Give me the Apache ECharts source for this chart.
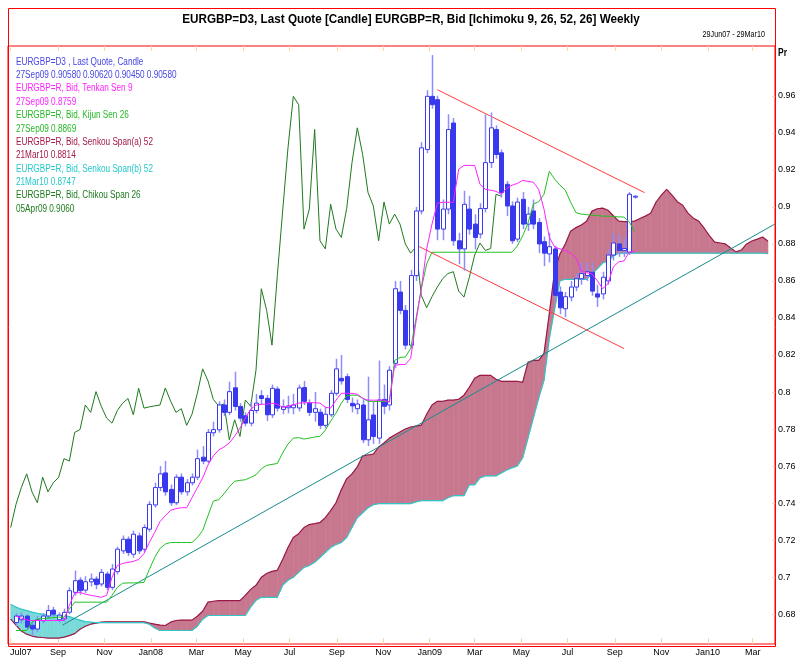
<!DOCTYPE html>
<html><head><meta charset="utf-8">
<script src="https://cdn.jsdelivr.net/npm/echarts@6/dist/echarts.min.js"></script>
<style>html,body{margin:0;padding:0;background:#fff}#c{width:799px;height:657px}</style>
</head><body><div id="c"></div>
<script>
const FONT = '"Liberation Sans",Arial,sans-serif';

// weekly candles start date and OHLC rows [open, close, low, high]
const candleStart = '2007-07-08';
const ohlc = [
[0.6755,0.6790,0.6735,0.6805],[0.6770,0.6790,0.6750,0.6810],[0.6790,0.6730,0.6715,0.6800],[0.6740,0.6720,0.6685,0.6760],
[0.6720,0.6770,0.6705,0.6790],[0.6765,0.6790,0.6750,0.6805],[0.6790,0.6820,0.6775,0.6850],[0.6822,0.6800,0.6785,0.6840],
[0.6770,0.6795,0.6755,0.6810],[0.6775,0.6810,0.6760,0.6830],[0.6811,0.6927,0.6800,0.6945],[0.6918,0.6981,0.6900,0.7036],
[0.6984,0.6927,0.6905,0.7000],[0.6930,0.6975,0.6915,0.7005],[0.6975,0.6990,0.6950,0.7020],[0.6990,0.6960,0.6935,0.7005],
[0.6963,0.7026,0.6950,0.7045],[0.7017,0.6945,0.6930,0.7030],[0.6945,0.7044,0.6930,0.7070],[0.7030,0.7151,0.7015,0.7165],
[0.7142,0.7205,0.7125,0.7225],[0.7205,0.7133,0.7115,0.7220],[0.7124,0.7232,0.7105,0.7251],[0.7223,0.7142,0.7125,0.7240],
[0.7151,0.7268,0.7135,0.7285],[0.7259,0.7393,0.7245,0.7410],[0.7390,0.7484,0.7375,0.7510],[0.7484,0.7558,0.7465,0.7600],
[0.7563,0.7461,0.7440,0.7628],[0.7474,0.7402,0.7385,0.7500],[0.7402,0.7540,0.7390,0.7555],[0.7540,0.7461,0.7445,0.7560],
[0.7461,0.7510,0.7440,0.7530],[0.7510,0.7540,0.7495,0.7560],[0.7540,0.7640,0.7525,0.7689],[0.7648,0.7627,0.7610,0.7708],
[0.7627,0.7782,0.7615,0.7800],[0.7780,0.7797,0.7760,0.7840],[0.7796,0.7930,0.7780,0.7950],[0.7930,0.7890,0.7870,0.7960],
[0.7890,0.8002,0.7875,0.8056],[0.8023,0.7922,0.7900,0.8110],[0.7922,0.7859,0.7840,0.7940],[0.7872,0.7832,0.7815,0.7890],
[0.7832,0.7900,0.7815,0.7945],[0.7900,0.7940,0.7885,0.7990],[0.7980,0.7965,0.7930,0.8010],[0.7966,0.7877,0.7843,0.7985],
[0.7877,0.8020,0.7860,0.8040],[0.8016,0.7913,0.7895,0.8030],[0.7906,0.7920,0.7880,0.7960],[0.7915,0.7925,0.7885,0.7980],
[0.7915,0.7930,0.7880,0.7990],[0.7914,0.8022,0.7895,0.8040],[0.8024,0.7950,0.7930,0.8060],[0.7940,0.7890,0.7870,0.7960],
[0.7890,0.7910,0.7840,0.8000],[0.7891,0.7820,0.7800,0.7910],[0.7820,0.7880,0.7805,0.7920],[0.7877,0.7993,0.7865,0.8010],
[0.7993,0.8125,0.7980,0.8180],[0.8074,0.8060,0.8040,0.8200],[0.8083,0.7960,0.7940,0.8100],[0.7939,0.7925,0.7890,0.7970],
[0.7910,0.7935,0.7880,0.7960],[0.7930,0.7742,0.7724,0.7960],[0.7742,0.7850,0.7708,0.8083],[0.7876,0.7760,0.7720,0.7950],
[0.7751,0.7957,0.7720,0.8170],[0.7960,0.7923,0.7880,0.8040],[0.7930,0.8118,0.7900,0.8140],[0.8155,0.8558,0.8130,0.8600],
[0.8540,0.8441,0.8420,0.8600],[0.8441,0.8253,0.8230,0.8470],[0.8253,0.8629,0.8235,0.8660],[0.8629,0.8978,0.8600,0.9000],
[0.8978,0.9319,0.8960,0.9350],[0.9310,0.9597,0.9290,0.9630],[0.9597,0.9552,0.9530,0.9820],[0.9579,0.8880,0.8820,0.9600],
[0.8880,0.8988,0.8820,0.9040],[0.8988,0.9418,0.8960,0.9500],[0.9453,0.8817,0.8790,0.9480],[0.8817,0.8773,0.8690,0.8860],
[0.8773,0.9014,0.8655,0.9087],[0.8988,0.8880,0.8850,0.9060],[0.8907,0.8835,0.8770,0.8960],[0.8853,0.8991,0.8830,0.9020],
[0.8991,0.9239,0.8970,0.9500],[0.9239,0.9427,0.9210,0.9510],[0.9418,0.9283,0.9260,0.9440],[0.9292,0.9078,0.9050,0.9310],
[0.9122,0.9005,0.8950,0.9140],[0.9005,0.8817,0.8800,0.9030],[0.8826,0.9026,0.8810,0.9050],[0.9041,0.8907,0.8880,0.9080],
[0.8907,0.8961,0.8870,0.9000],[0.8978,0.8907,0.8880,0.9040],[0.8916,0.8800,0.8750,0.8940],[0.8812,0.8750,0.8680,0.8840],
[0.8746,0.8785,0.8700,0.8860],[0.8773,0.8522,0.8490,0.8790],[0.8540,0.8455,0.8420,0.8570],[0.8450,0.8515,0.8405,0.8540],
[0.8513,0.8567,0.8490,0.8600],[0.8567,0.8612,0.8545,0.8640],[0.8612,0.8640,0.8580,0.8700],[0.8629,0.8650,0.8600,0.8700],
[0.8647,0.8545,0.8520,0.8700],[0.8530,0.8513,0.8460,0.8580],[0.8530,0.8620,0.8500,0.8650],[0.8600,0.8740,0.8580,0.8770],
[0.8740,0.8805,0.8710,0.8860],[0.8800,0.8765,0.8730,0.8850],[0.8765,0.8775,0.8730,0.8830],[0.8755,0.9068,0.8740,0.9080],
[0.9058,0.9058,0.9045,0.9062]
];

// Tenkan Sen 9 and Kijun Sen 26, one value per candle week
const tenkan = [
0.6789,0.6779,0.6768,0.6766,0.6766,0.6766,0.6766,0.6766,0.6766,0.6766,
0.6848,0.6913,0.6918,0.6908,0.6902,0.6897,0.6891,0.6902,0.6999,0.7063,
0.7074,0.7080,0.7085,0.7096,0.7128,0.7187,0.7241,0.7300,0.7332,0.7361,
0.7370,0.7375,0.7375,0.7429,0.7483,0.7536,0.7606,0.7655,0.7687,0.7703,
0.7725,0.7762,0.7805,0.7859,0.7907,0.7929,0.7934,0.7934,0.7940,0.7934,
0.7918,0.7923,0.7930,0.7940,0.7942,0.7943,0.7942,0.7940,0.7918,0.7913,
0.7956,0.7993,0.7993,0.7993,0.7988,0.7966,0.7956,0.7956,0.7956,0.7956,
0.7945,0.8144,0.8149,0.8149,0.8181,0.8380,0.8558,0.8773,0.8907,0.9020,
0.9025,0.9025,0.9025,0.9203,0.9224,0.9224,0.9224,0.9122,0.9095,0.9090,
0.9084,0.9068,0.9100,0.9117,0.9127,0.9143,0.9138,0.9133,0.9095,0.8988,
0.8837,0.8783,0.8773,0.8765,0.8751,0.8724,0.8654,0.8644,0.8638,0.8601,
0.8558,0.8585,0.8676,0.8703,0.8708,0.8757,0.8759
];
const kijun = [
0.6712,0.6712,0.6712,0.6757,0.6773,0.6776,0.6779,0.6781,0.6784,0.6784,
0.6827,0.6865,0.6865,0.6865,0.6865,0.6865,0.6865,0.6865,0.6902,0.6945,
0.6967,0.6969,0.6969,0.6969,0.6972,0.7042,0.7106,0.7155,0.7179,0.7187,
0.7187,0.7187,0.7187,0.7187,0.7214,0.7252,0.7332,0.7411,0.7418,0.7450,
0.7488,0.7518,0.7523,0.7526,0.7539,0.7553,0.7585,0.7604,0.7609,0.7614,
0.7671,0.7719,0.7751,0.7754,0.7746,0.7751,0.7757,0.7761,0.7794,0.7843,
0.7886,0.7940,0.7980,0.7983,0.7983,0.7966,0.7950,0.7949,0.7949,0.7949,
0.7949,0.8171,0.8187,0.8189,0.8235,0.8396,0.8558,0.8692,0.8755,0.8755,
0.8755,0.8755,0.8755,0.8755,0.8755,0.8755,0.8755,0.8755,0.8755,0.8755,
0.8755,0.8755,0.8755,0.8755,0.8789,0.8843,0.8912,0.9015,0.9028,0.9068,
0.9192,0.9150,0.9117,0.9090,0.9025,0.8969,0.8961,0.8958,0.8955,0.8953,
0.8950,0.8950,0.8948,0.8946,0.8945,0.8918,0.8869
];

// Senkou spans (plotted 26 periods ahead), weekly from this date
const senkouStart = '2007-07-01';
const senkouA = [
0.6773,0.6741,0.6709,0.6692,0.6682,0.6676,0.6674,0.6671,0.6671,0.6671,
0.6676,0.6684,0.6695,0.6719,0.6735,0.6746,0.6752,0.6757,0.6759,0.6759,
0.6759,0.6759,0.6759,0.6759,0.6759,0.6759,0.6752,0.6746,0.6741,0.6739,
0.6757,0.6766,0.6768,0.6768,0.6768,0.6789,0.6816,0.6865,0.6870,0.6873,
0.6873,0.6873,0.6873,0.6873,0.6902,0.6934,0.6956,0.6999,0.7020,0.7031,
0.7037,0.7096,0.7160,0.7214,0.7235,0.7268,0.7284,0.7289,0.7295,0.7321,
0.7359,0.7402,0.7472,0.7531,0.7558,0.7596,0.7655,0.7660,0.7665,0.7703,
0.7725,0.7751,0.7768,0.7784,0.7800,0.7811,0.7816,0.7821,0.7880,0.7930,
0.7950,0.7950,0.7956,0.7956,0.7961,0.7983,0.8026,0.8074,0.8090,0.8090,
0.8090,0.8069,0.8058,0.8058,0.8058,0.8058,0.8052,0.8160,0.8171,0.8171,
0.8208,0.8423,0.8654,0.8746,0.8800,0.8869,0.8888,0.8902,0.8923,0.8977,
0.8990,0.8993,0.8982,0.8952,0.8923,0.8920,0.8920,0.8923,0.8937,0.8950,
0.8966,0.9025,0.9063,0.9095,0.9063,0.9028,0.9009,0.8966,0.8939,0.8923,
0.8886,0.8845,0.8810,0.8805,0.8800,0.8778,0.8757,0.8767,0.8800,0.8816,
0.8826,0.8837,0.8814
];
const senkouB = [
0.6854,0.6838,0.6827,0.6819,0.6811,0.6805,0.6800,0.6797,0.6795,0.6793,
0.6793,0.6787,0.6776,0.6768,0.6760,0.6757,0.6754,0.6754,0.6754,0.6754,
0.6754,0.6754,0.6754,0.6754,0.6754,0.6754,0.6746,0.6725,0.6712,0.6712,
0.6712,0.6712,0.6712,0.6712,0.6712,0.6735,0.6773,0.6793,0.6793,0.6793,
0.6793,0.6793,0.6793,0.6793,0.6793,0.6838,0.6875,0.6891,0.6891,0.6891,
0.6891,0.6956,0.6983,0.6999,0.7026,0.7053,0.7063,0.7080,0.7106,0.7133,
0.7160,0.7176,0.7187,0.7214,0.7268,0.7321,0.7348,0.7375,0.7391,0.7397,
0.7397,0.7397,0.7397,0.7397,0.7397,0.7397,0.7407,0.7413,0.7413,0.7413,
0.7413,0.7413,0.7429,0.7440,0.7440,0.7440,0.7499,0.7499,0.7536,0.7547,
0.7547,0.7547,0.7563,0.7579,0.7590,0.7601,0.7644,0.7751,0.7859,0.7966,
0.8063,0.8289,0.8450,0.8601,0.8609,0.8609,0.8609,0.8609,0.8609,0.8638,
0.8665,0.8697,0.8708,0.8735,0.8750,0.8750,0.8750,0.8750,0.8750,0.8750,
0.8750,0.8750,0.8750,0.8750,0.8750,0.8750,0.8750,0.8750,0.8750,0.8750,
0.8750,0.8750,0.8750,0.8750,0.8750,0.8750,0.8750,0.8750,0.8750,0.8750,
0.8750,0.8750,0.8747
];
// Chikou span: closes plotted 26 periods back
const chikouShift = 25;

// hand-drawn trend lines [date, value]
const trendRedUpper = [['2009-01-11', 0.9633], ['2009-10-10', 0.9077]];
const trendRedLower = [['2008-12-14', 0.8794], ['2009-09-13', 0.8235]];
const trendTeal = [['2007-09-07', 0.6741], ['2010-03-30', 0.8907]];

const monthTicks = ['2007-07-01','2007-09-01','2007-11-01','2008-01-01','2008-03-01','2008-05-01','2008-07-01','2008-09-01','2008-11-01','2009-01-01','2009-03-01','2009-05-01','2009-07-01','2009-09-01','2009-11-01','2010-01-01','2010-03-01'];
const monthLabels = ['Jul07','Sep','Nov','Jan08','Mar','May','Jul','Sep','Nov','Jan09','Mar','May','Jul','Sep','Nov','Jan10','Mar'];
const yTicks = [0.68,0.70,0.72,0.74,0.76,0.78,0.80,0.82,0.84,0.86,0.88,0.90,0.92,0.94,0.96];

const legendLines = [
  ['EURGBP=D3 , Last Quote, Candle', '#4646E6'],
  ['27Sep09 0.90580 0.90620 0.90450 0.90580', '#4646E6'],
  ['EURGBP=R, Bid, Tenkan Sen 9', '#FF22FF'],
  ['27Sep09 0.8759', '#FF22FF'],
  ['EURGBP=R, Bid, Kijun Sen 26', '#26B826'],
  ['27Sep09 0.8869', '#26B826'],
  ['EURGBP=R, Bid, Senkou Span(a) 52', '#A3184A'],
  ['21Mar10 0.8814', '#A3184A'],
  ['EURGBP=R, Bid, Senkou Span(b) 52', '#26C8C8'],
  ['21Mar10 0.8747', '#26C8C8'],
  ['EURGBP=R, Bid, Chikou Span 26', '#1E7A1E'],
  ['05Apr09 0.9060', '#1E7A1E']
];

const WEEK = 7 * 86400000;
const ts = s => Date.parse(s + 'T00:00:00Z');
const wk = (start, i) => ts(start) + i * WEEK;

const candleData = ohlc.map((r, i) => [wk(candleStart, i), r[0], r[1], r[2], r[3]]);
const tenkanData = tenkan.map((v, i) => [wk(candleStart, i), v]);
const kijunData = kijun.map((v, i) => [wk(candleStart, i), v]);
const aData = senkouA.map((v, j) => [wk(senkouStart, j), v]);
const bData = senkouB.map((v, j) => [wk(senkouStart, j), v]);
const chikouData = [];
for (let i = chikouShift - 1; i < ohlc.length; i++) chikouData.push([wk(candleStart, i - chikouShift), ohlc[i][1]]);
const cloudData = [];
for (let j = 0; j + 1 < senkouA.length; j++) {
  cloudData.push([wk(senkouStart, j), senkouA[j], senkouB[j], wk(senkouStart, j + 1), senkouA[j + 1], senkouB[j + 1]]);
}
const tickTs = monthTicks.map(ts);

const PINK = '#C7788F', CYAN = '#7ADADA';
function cloudItem(params, api) {
  const t0 = api.value(0), a0 = api.value(1), b0 = api.value(2), t1 = api.value(3), a1 = api.value(4), b1 = api.value(5);
  const PA0 = api.coord([t0, a0]), PB0 = api.coord([t0, b0]), PA1 = api.coord([t1, a1]), PB1 = api.coord([t1, b1]);
  const d0 = a0 - b0, d1 = a1 - b1;
  const ch = [];
  const poly = (pts, col) => ch.push({ type: 'polygon', shape: { points: pts }, style: { fill: col, stroke: col, lineWidth: 0.6 } });
  if (d0 * d1 >= 0) {
    poly([PA0, PA1, PB1, PB0], (d0 + d1) >= 0 ? PINK : CYAN);
  } else {
    const f = d0 / (d0 - d1);
    const PX = api.coord([t0 + (t1 - t0) * f, a0 + (a1 - a0) * f]);
    poly([PA0, PX, PB0], d0 > 0 ? PINK : CYAN);
    poly([PX, PA1, PB1], d1 > 0 ? PINK : CYAN);
  }
  return { type: 'group', children: ch };
}
const BLUE = '#3838EE', WICK = '#8C8CFF';
function candleItem(params, api) {
  const t = api.value(0), o = api.value(1), c = api.value(2), l = api.value(3), h = api.value(4);
  const pO = api.coord([t, o]), pC = api.coord([t, c]), pL = api.coord([t, l]), pH = api.coord([t, h]);
  const x = Math.round(pO[0]) + 0.5;
  const top = Math.min(pO[1], pC[1]), bot = Math.max(pO[1], pC[1]);
  const w = 4;
  const up = c >= o;
  return { type: 'group', children: [
    { type: 'line', shape: { x1: x, y1: pH[1], x2: x, y2: top }, style: { stroke: WICK, lineWidth: 1.5 } },
    { type: 'line', shape: { x1: x, y1: bot, x2: x, y2: pL[1] }, style: { stroke: WICK, lineWidth: 1.5 } },
    { type: 'rect', shape: { x: x - w / 2, y: top, width: w, height: Math.max(bot - top, 1) },
      style: { fill: up ? '#FFFFFF' : BLUE, stroke: BLUE, lineWidth: 1 } }
  ] };
}

const chart = echarts.init(document.getElementById('c'), null, { renderer: 'canvas' });
const lineS = (name, data, color, width, z) => ({
  name, type: 'line', data, showSymbol: false, symbol: 'none', z: z,
  lineStyle: { color, width }, animation: false, clip: true
});
const trendS = (data, color) => ({
  type: 'line', data: data.map(p => [ts(p[0]), p[1]]), showSymbol: false, symbol: 'none', z: 6,
  lineStyle: { color, width: 1 }, animation: false, clip: true
});
const txt = (x, y, text, font, fill, align, sx, z) => ({
  type: 'text', x, y, scaleX: sx, z: z || 50,
  style: { text, font, fill, textAlign: align, textVerticalAlign: 'middle', align, verticalAlign: 'middle' }
});

const graphics = [
  { type: 'rect', shape: { x: 8.5, y: 8.5, width: 767, height: 638 }, style: { fill: null, stroke: '#FF0000', lineWidth: 1 }, z: 100 },
  txt(411, 19, 'EURGBP=D3, Last Quote [Candle] EURGBP=R, Bid [Ichimoku 9, 26, 52, 26] Weekly', 'bold 13px ' + FONT, '#000', 'center', 0.9),
  txt(765, 35, '29Jun07 - 29Mar10', '9px ' + FONT, '#000', 'right', 0.8),
  txt(778, 53, 'Pr', 'bold 10px ' + FONT, '#000', 'left', 0.85)
];
legendLines.forEach((l, k) => graphics.push(txt(16, 62 + k * 13.35, l[0], '10px ' + FONT, l[1], 'left', 0.82)));

chart.setOption({
  animation: false,
  backgroundColor: '#fff',
  grid: { left: 8, top: 46, width: 767, height: 601, show: true, borderColor: '#FF0000', borderWidth: 1, backgroundColor: 'transparent', containLabel: false },
  xAxis: [{
    type: 'value', min: Date.UTC(2007, 5, 27, 12), max: Date.UTC(2010, 2, 30, 5),
    axisLine: { show: false }, splitLine: { show: false },
    axisTick: { show: true, inside: true, length: 6, customValues: tickTs, lineStyle: { color: '#FFD3A8', width: 1 } },
    axisLabel: { show: true, customValues: tickTs, margin: 4, color: '#000', fontFamily: FONT, fontSize: 9,
      formatter: v => { const k = tickTs.indexOf(v); return k === 0 ? '{f|' + monthLabels[k] + '}' : (k >= 0 ? monthLabels[k] : ''); },
      rich: { f: { padding: [0, 0, 0, 20], fontFamily: FONT, fontSize: 9, color: '#000' } } }
  }, {
    type: 'value', position: 'top', min: Date.UTC(2007, 5, 27, 12), max: Date.UTC(2010, 2, 30, 5),
    axisLine: { show: false }, splitLine: { show: false }, axisLabel: { show: false },
    axisTick: { show: true, inside: true, length: 5, customValues: tickTs, lineStyle: { color: '#FFD3A8', width: 1 } }
  }],
  yAxis: {
    type: 'value', position: 'right', min: 0.6639, max: 0.9869, scale: true,
    axisLine: { show: false }, splitLine: { show: false },
    axisTick: { show: true, inside: true, length: 3, customValues: yTicks, lineStyle: { color: '#FFD3A8' } },
    axisLabel: { customValues: yTicks, margin: 3, color: '#000', fontFamily: FONT, fontSize: 9,
      formatter: v => String(+(+v).toFixed(2)) }
  },
  graphic: graphics,
  series: [
    { type: 'custom', renderItem: cloudItem, data: cloudData, z: 1, clip: true, silent: true, animation: false,
      encode: { x: [0, 3], y: [1, 2, 4, 5] } },
    lineS('Senkou A', aData, '#9A1A47', 1.2, 3),
    lineS('Senkou B', bData, '#33C6C6', 1.2, 3),
    lineS('Chikou', chikouData, '#1E7A1E', 1, 4),
    trendS(trendTeal, '#178C8C'),
    trendS(trendRedUpper, '#FF3B3B'),
    trendS(trendRedLower, '#FF3B3B'),
    { type: 'custom', renderItem: candleItem, data: candleData, z: 7, clip: true, animation: false,
      encode: { x: 0, y: [1, 2, 3, 4] } },
    lineS('Kijun', kijunData, '#22C022', 1, 8),
    lineS('Tenkan', tenkanData, '#FF22FF', 1, 9)
  ]
});
</script>
</body></html>
